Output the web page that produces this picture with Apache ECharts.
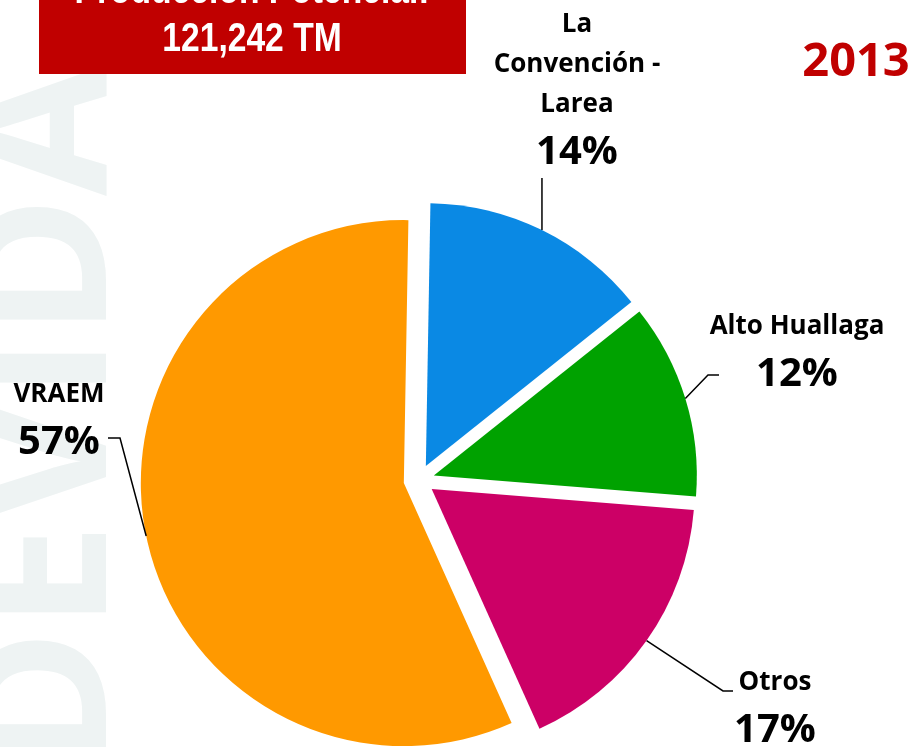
<!DOCTYPE html>
<html><head><meta charset="utf-8">
<script src="https://cdn.jsdelivr.net/npm/echarts@6/dist/echarts.min.js"></script>
<style>html,body{margin:0;padding:0;background:#fff}#c{width:912px;height:747px}</style>
</head><body><div id="c"></div><script>
// ---- data ----
const categories = ['La Convención - Larea', 'Alto Huallaga', 'Otros', 'VRAEM'];
const shares = [14, 12, 17, 57];
const titleLines = ['Producción Potencial:', '121,242 TM'];
const yearLabel = '2013';
const watermark = 'DEVIDA';

// ---- styles / layout ----
const colors = ['#0A89E4', '#00A200', '#CC0066', '#FF9900'];
const CENTER = [419, 480];
const RADIUS = 263;
const EXPLODE = 15.5;
const labelCenter = [[577, 93], [797, 355], [775, 711], [59, 423]];
const guideTail = [[[null, 178]], [[708, 375], [719, 375]], [[723, 691], [733, 691]], [[120, 438], [108, 438]]];
const FONT = '"Open Sans", Lato, sans-serif';

function wrapName(name) {
  if (name.length <= 14) return name;
  const words = name.split(' ');
  const lines = [];
  let cur = '';
  words.forEach(w => {
    if (cur && (cur + ' ' + w).length > 12) { lines.push(cur); cur = w; }
    else cur = cur ? cur + ' ' + w : w;
  });
  if (cur) lines.push(cur);
  return lines.join('\n');
}

const pieData = categories.map((n, i) => ({ name: n, value: shares[i] }));

const chart = echarts.init(document.getElementById('c'), null, { renderer: 'canvas' });
chart.setOption({
  animation: false,
  backgroundColor: '#ffffff',
  graphic: [
    { type: 'text', x: 52, y: 770, rotation: Math.PI / 2, z: -10,
      style: { text: watermark, font: 'bold 190px ' + FONT, fill: '#EEF3F3', textAlign: 'left', textVerticalAlign: 'middle' } },
    { type: 'rect', shape: { x: 39, y: -20, width: 427, height: 94 }, style: { fill: '#C00000' }, z: 5 },
    { type: 'text', x: 252, y: 64, scaleX: 0.82, z: 6,
      style: { text: titleLines[0] + '\n' + titleLines[1], font: 'bold 41px "Liberation Sans", Arial, sans-serif', lineHeight: 48,
               fill: '#ffffff', textAlign: 'center', textVerticalAlign: 'bottom' } },
    { type: 'text', x: 856, y: 63, z: 6,
      style: { text: yearLabel, font: 'bold 47px ' + FONT, fill: '#C00000', textAlign: 'center', textVerticalAlign: 'middle' } }
  ],
  series: [{
    type: 'pie',
    center: CENTER,
    radius: RADIUS,
    startAngle: 89,
    clockwise: true,
    selectedMode: 'multiple',
    selectedOffset: EXPLODE,
    silent: true,
    emphasis: { disabled: true },
    data: pieData.map((d, i) => ({ name: d.name, value: d.value, selected: true, itemStyle: { color: colors[i] } })),
    label: { show: false },
    labelLine: { show: false }
  }, {
    type: 'pie',
    center: CENTER,
    radius: RADIUS,
    startAngle: 89,
    clockwise: true,
    silent: true,
    z: 3,
    emphasis: { disabled: true },
    itemStyle: { color: 'rgba(0,0,0,0)' },
    data: pieData,
    label: {
      show: true, position: 'outside',
      formatter: p => '{n|' + wrapName(p.name) + '}\n{p|' + Math.round(p.percent) + '%}',
      rich: {
        n: { fontFamily: FONT, fontWeight: 'bold', fontSize: 26, lineHeight: 40, color: '#000', align: 'center' },
        p: { fontFamily: FONT, fontWeight: 'bold', fontSize: 40, lineHeight: 56, color: '#000', align: 'center' }
      }
    },
    labelLine: { show: true, lineStyle: { color: '#000', width: 1.5 } },
    labelLayout: function (params) {
      const i = params.dataIndex;
      const out = { x: labelCenter[i][0], y: labelCenter[i][1], align: 'center', verticalAlign: 'middle' };
      const a0 = params.labelLinePoints ? params.labelLinePoints[0] : null;
      if (a0) {
        const vx = a0[0] - CENTER[0], vy = a0[1] - CENTER[1];
        const L = Math.sqrt(vx * vx + vy * vy) || 1;
        const a = [a0[0] + vx / L * EXPLODE, a0[1] + vy / L * EXPLODE];
        const pts = [a];
        guideTail[i].forEach(p => pts.push([p[0] == null ? a[0] : p[0], p[1]]));
        if (pts.length === 2) pts.push(pts[1].slice());
        out.labelLinePoints = pts;
      }
      return out;
    }
  }]
});
</script></body></html>
